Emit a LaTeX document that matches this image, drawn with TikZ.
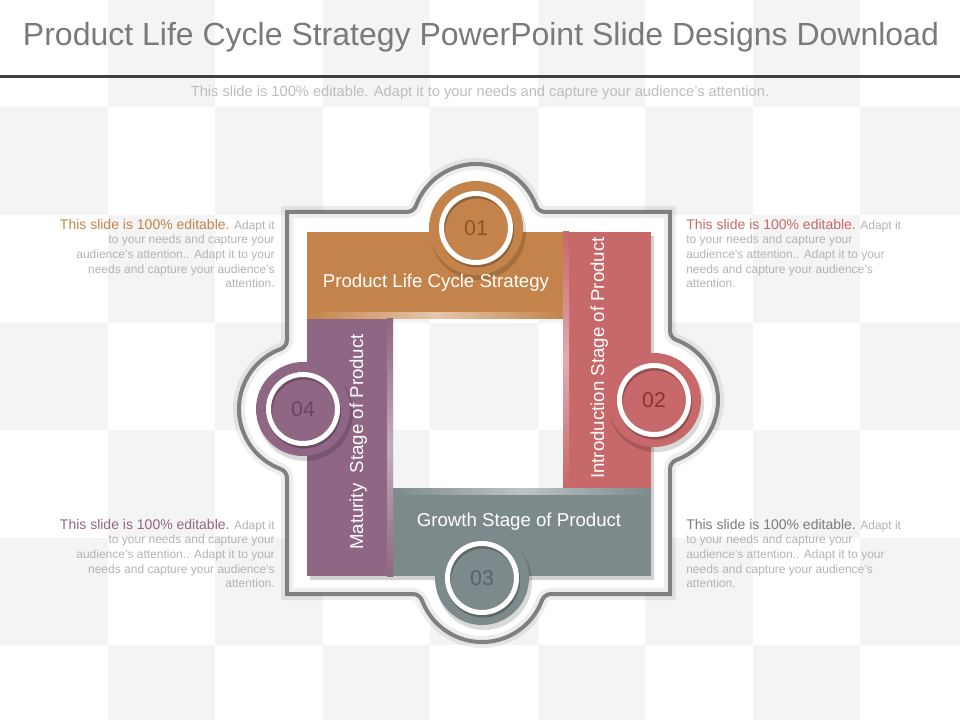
\documentclass[tikz,border=0pt]{standalone}
\usepackage{fontspec}
\setmainfont{Liberation Sans}
\usetikzlibrary{calc}
\definecolor{tilegray}{HTML}{F4F4F4}
\definecolor{titlegray}{HTML}{7A7A7A}
\definecolor{rulegray}{HTML}{404040}
\definecolor{subgray}{HTML}{BDBDBD}
\definecolor{notegray}{HTML}{B3B3B3}
\definecolor{framegray}{HTML}{808080}
\definecolor{lcorange}{HTML}{C4834A}
\definecolor{lcred}{HTML}{C7686A}
\definecolor{lcgray}{HTML}{7D8A8C}
\definecolor{lcpurple}{HTML}{8F6683}
\definecolor{numorange}{HTML}{8C5526}
\definecolor{numred}{HTML}{8E3134}
\definecolor{numgray}{HTML}{56656A}
\definecolor{numpurple}{HTML}{6B4661}
\tikzstyle{tile}=[fill=tilegray]
\tikzstyle{bartext}=[text=white, inner sep=0pt, font=\fontsize{14}{16}\selectfont]
\tikzstyle{num}=[inner sep=0pt, font=\fontsize{16}{18}\selectfont]
\tikzstyle{note}=[text=notegray, inner sep=0pt, font=\fontsize{9}{10.9}\selectfont]
\newcommand{\lead}[2]{\textcolor{#1}{\fontsize{10.5}{10.9}\selectfont #2}}
% outline of the frame: square with four round bumps and small fillets
\newcommand{\framepath}{(287,212) -- (406.72,212)
  arc[start angle=90, end angle=20.57, radius=10]
  arc[start angle=200.57, end angle=339.43, radius=64]
  arc[start angle=159.43, end angle=90, radius=10]
  -- (670,212) -- (670,330.72)
  arc[start angle=180, end angle=110.57, radius=10]
  arc[start angle=290.57, end angle=429.43, radius=64]
  arc[start angle=249.43, end angle=180, radius=10]
  -- (670,594) -- (551.28,594)
  arc[start angle=270, end angle=200.57, radius=10]
  arc[start angle=380.57, end angle=519.43, radius=64]
  arc[start angle=339.43, end angle=270, radius=10]
  -- (287,594) -- (287,478.28)
  arc[start angle=360, end angle=290.57, radius=10]
  arc[start angle=470.57, end angle=609.43, radius=64]
  arc[start angle=429.43, end angle=360, radius=10]
  -- cycle}

\begin{document}
\begin{tikzpicture}[x=0.75pt,y=-0.75pt]
\useasboundingbox (0,0) rectangle (960,720);
% background tiles
\foreach \i in {0,...,8}{
  \foreach \j in {0,...,6}{
    \pgfmathtruncatemacro\odd{mod(\i+\j,2)}
    \ifnum\odd=1 \fill[tile] (\i*107.5,\j*107.5) rectangle ++(107.5,107.5);\fi
  }
}
% heading
\node[text=titlegray, inner sep=0pt, anchor=base, font=\fontsize{24}{27}\selectfont] (title) at (481,46) {Product Life Cycle Strategy PowerPoint Slide Designs Download};
\draw[rulegray, line width=2.25pt] (0,76.5) -- (960,76.5);
\node[text=subgray, inner sep=0pt, anchor=base, font=\fontsize{11}{13}\selectfont] (sub) at (480,97) {This slide is 100\% editable. Adapt it to your needs and capture your audience's attention.};

% frame
\fill[white, even odd rule] \framepath (393,318) rectangle (563,488);
\draw[black, opacity=0.07, line width=9pt] \framepath;
\draw[framegray, line width=3pt] \framepath;

% centres of the number discs
\coordinate (c1) at (476,228);
\coordinate (c2) at (654,400);
\coordinate (c3) at (482,578);
\coordinate (c4) at (303,409);

% bars
\fill[black, opacity=0.18, even odd rule] (310,236) rectangle (654,580) (393,318) rectangle (563,488);
\fill[lcorange] (307,232) rectangle (563,318);
\fill[lcred] (563,232) rectangle (651,488);
\fill[lcgray] (393,488) rectangle (651,576);
\fill[lcpurple] (307,318) rectangle (393,576);
\shade[left color=lcorange, right color=lcorange, middle color=white!55!lcorange] (307,312) rectangle (563,318);
\shade[top color=lcred, bottom color=lcred, middle color=white!45!lcred] (563,232) rectangle (569,488);
\shade[left color=lcgray, right color=lcgray, middle color=white!50!lcgray] (393,488) rectangle (651,494);
\shade[top color=lcpurple, bottom color=lcpurple, middle color=white!45!lcpurple] (387,318) rectangle (393,576);

% number discs
\foreach \c/\col in {c1/lcorange, c2/lcred, c3/lcgray, c4/lcpurple}{
  \fill[black, opacity=0.15] ($(\c)+(2,4)$) circle (48);
  \fill[\col] (\c) circle (47);
  \draw[black, opacity=0.25, line width=3.75pt] ($(\c)+(1,2.5)$) circle (34.5);
  \draw[white, line width=3.75pt] (\c) circle (34.5);
}
\node[num, text=numorange] (n1) at (c1) {01};
\node[num, text=numred] (n2) at (c2) {02};
\node[num, text=numgray] (n3) at (c3) {03};
\node[num, text=numpurple] (n4) at (c4) {04};

% bar labels
\node[bartext, anchor=base] (b1) at (436,287) {Product Life Cycle Strategy};
\node[bartext, anchor=base, rotate=90] (b2) at (604,358) {Introduction Stage of Product};
\node[bartext, anchor=base] (b3) at (519,526) {Growth Stage of Product};
\node[bartext, anchor=base, rotate=90] (b4) at (363,442) {Maturity\ \ Stage of Product};

% side notes
\node[note, align=right, anchor=north east] (t1) at (275,219) {\lead{lcorange}{This slide is 100\% editable.} Adapt it\\to your needs and capture your\\audience's attention.. Adapt it to your\\needs and capture your audience's\\attention.};
\node[note, align=left, anchor=north west] (t2) at (686,219) {\lead{lcred}{This slide is 100\% editable.} Adapt it\\to your needs and capture your\\audience's attention.. Adapt it to your\\needs and capture your audience's\\attention.};
\node[note, align=right, anchor=north east] (t3) at (275,519) {\lead{lcpurple}{This slide is 100\% editable.} Adapt it\\to your needs and capture your\\audience's attention.. Adapt it to your\\needs and capture your audience's\\attention.};
\node[note, align=left, anchor=north west] (t4) at (686,519) {\lead{titlegray}{This slide is 100\% editable.} Adapt it\\to your needs and capture your\\audience's attention.. Adapt it to your\\needs and capture your audience's\\attention.};
\end{tikzpicture}
\end{document}
